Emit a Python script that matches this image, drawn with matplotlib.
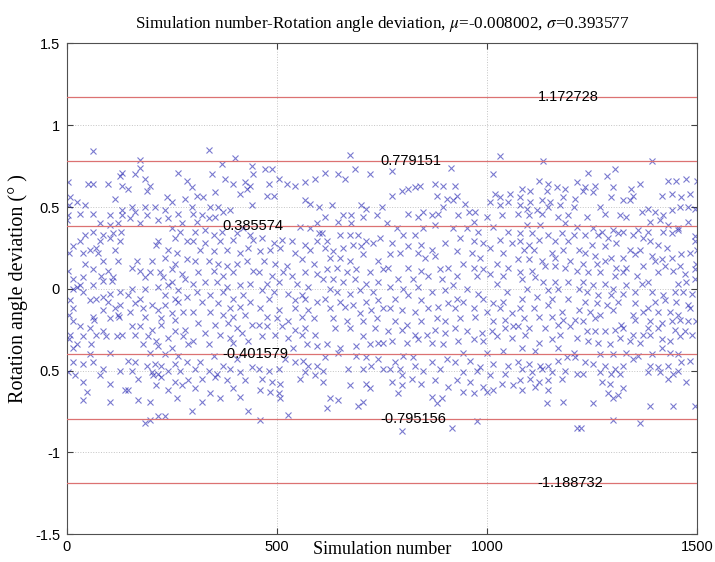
import matplotlib
matplotlib.use('Agg')
import matplotlib.pyplot as plt

# (simulation number, rotation angle deviation), strip by strip
strip_1 = [(61, 0.84), (130, 0.71), (126, 0.69), (2, 0.65), (50, 0.64), (62, 0.64), (98, 0.64), (130, 0.63),
           (7, 0.56), (23, 0.53), (43, 0.51), (4, 0.51), (114, 0.55), (3, 0.45), (31, 0.46), (62, 0.46),
           (102, 0.45), (130, 0.48), (132, 0.45), (1, 0.42), (78, 0.40), (102, 0.39), (122, 0.40), (43, 0.33),
           (62, 0.35), (86, 0.33), (110, 0.34), (129, 0.35), (31, 0.29), (78, 0.29), (102, 0.31), (126, 0.29),
           (70, 0.25), (54, 0.24), (15, 0.26), (4, 0.22), (39, 0.22), (74, 0.22), (114, 0.24), (43, 0.15),
           (86, 0.17), (122, 0.17), (3, 0.11), (62, 0.12), (98, 0.11), (39, 0.07), (82, 0.08), (110, 0.07),
           (15, 0.06), (23, 0.01), (15, 0.00), (31, 0.02), (62, 0.02), (86, 0.05), (106, 0.05), (39, -0.02),
           (70, -0.06), (86, -0.05), (102, -0.03), (126, -0.02), (7, -0.07), (54, -0.07), (98, -0.08),
           (127, -0.10), (15, -0.12), (86, -0.13), (114, -0.12), (4, -0.16), (62, -0.17), (122, -0.16),
           (15, -0.20), (64, -0.19), (102, -0.18), (125, -0.17), (31, -0.23), (54, -0.24), (86, -0.26),
           (7, -0.28), (39, -0.29), (70, -0.28), (94, -0.29), (118, -0.29), (131, -0.28), (23, -0.34),
           (58, -0.34), (4, -0.31), (15, -0.36), (54, -0.40), (102, -0.39), (15, -0.45), (39, -0.46),
           (62, -0.45), (86, -0.49), (126, -0.50), (3, -0.51), (19, -0.53), (78, -0.53), (39, -0.57),
           (102, -0.58), (47, -0.63), (39, -0.68), (102, -0.69)]

strip_2 = [(174, 0.79), (265, 0.71), (173, 0.74), (162, 0.70), (186, 0.67), (198, 0.63), (190, 0.60), (146, 0.61),
           (285, 0.66), (237, 0.56), (281, 0.55), (249, 0.53), (154, 0.50), (186, 0.50), (209, 0.50), (162, 0.47),
           (233, 0.48), (265, 0.46), (190, 0.45), (150, 0.43), (217, 0.42), (241, 0.43), (174, 0.40), (273, 0.40),
           (249, 0.37), (269, 0.35), (257, 0.31), (285, 0.29), (217, 0.29), (213, 0.27), (261, 0.22), (241, 0.24),
           (166, 0.17), (202, 0.17), (233, 0.19), (257, 0.15), (285, 0.18), (154, 0.13), (174, 0.11), (198, 0.10),
           (221, 0.10), (249, 0.12), (273, 0.09), (186, 0.07), (229, 0.07), (249, 0.04), (281, 0.06), (154, 0.00),
           (186, 0.00), (217, 0.01), (241, 0.02), (265, -0.01), (146, -0.04), (174, -0.06), (233, -0.04),
           (257, -0.06), (285, -0.05), (162, -0.09), (202, -0.10), (233, -0.10), (265, -0.08), (150, -0.14),
           (182, -0.12), (217, -0.13), (249, -0.15), (277, -0.14), (186, -0.17), (225, -0.18), (257, -0.19),
           (154, -0.23), (174, -0.23), (202, -0.25), (225, -0.22), (257, -0.26), (281, -0.25), (162, -0.28),
           (194, -0.29), (213, -0.32), (241, -0.30), (277, -0.29), (182, -0.34), (217, -0.35), (249, -0.36),
           (289, -0.34), (198, -0.39), (233, -0.40), (265, -0.41), (146, -0.44), (162, -0.45), (190, -0.47),
           (209, -0.46), (225, -0.47), (257, -0.46), (285, -0.45), (154, -0.50), (202, -0.51), (217, -0.52),
           (241, -0.50), (269, -0.50), (170, -0.55), (205, -0.53), (225, -0.54), (257, -0.57), (289, -0.56),
           (146, -0.62), (213, -0.59), (241, -0.62), (273, -0.59), (138, -0.62), (170, -0.68), (198, -0.69),
           (261, -0.67), (217, -0.78), (233, -0.78), (198, -0.80), (186, -0.82)]

strip_3 = [(337, 0.85), (400, 0.80), (368, 0.76), (440, 0.75), (345, 0.70), (376, 0.67), (396, 0.64), (424, 0.65),
           (436, 0.63), (444, 0.70), (297, 0.62), (325, 0.56), (309, 0.57), (353, 0.59), (412, 0.58), (428, 0.61),
           (341, 0.50), (297, 0.50), (360, 0.50), (388, 0.48), (440, 0.51), (301, 0.46), (321, 0.45), (337, 0.43),
           (353, 0.44), (309, 0.41), (372, 0.47), (305, 0.35), (329, 0.36), (349, 0.33), (368, 0.35), (404, 0.34),
           (420, 0.37), (436, 0.33), (301, 0.29), (329, 0.28), (364, 0.29), (396, 0.30), (444, 0.30), (317, 0.24),
           (349, 0.23), (380, 0.24), (412, 0.22), (432, 0.25), (305, 0.17), (337, 0.17), (360, 0.15), (380, 0.14),
           (404, 0.15), (428, 0.17), (313, 0.10), (349, 0.11), (372, 0.08), (396, 0.10), (444, 0.11), (301, 0.03),
           (329, 0.04), (356, 0.04), (380, 0.01), (412, 0.02), (436, 0.03), (309, -0.02), (341, -0.04),
           (372, -0.02), (396, -0.06), (420, -0.04), (321, -0.08), (360, -0.09), (388, -0.12), (412, -0.11),
           (436, -0.08), (301, -0.14), (341, -0.14), (372, -0.16), (396, -0.17), (424, -0.16), (313, -0.21),
           (353, -0.22), (384, -0.21), (404, -0.24), (440, -0.22), (329, -0.27), (364, -0.28), (388, -0.30),
           (416, -0.27), (301, -0.32), (337, -0.34), (396, -0.33), (432, -0.32), (349, -0.41), (317, -0.45),
           (372, -0.47), (404, -0.43), (305, -0.49), (337, -0.50), (356, -0.52), (388, -0.49), (412, -0.51),
           (440, -0.48), (321, -0.55), (353, -0.54), (380, -0.56), (424, -0.56), (305, -0.61), (341, -0.64),
           (396, -0.61), (321, -0.69), (364, -0.67), (412, -0.66), (432, -0.75), (297, -0.75)]

strip_4 = [(472, 0.73), (488, 0.73), (504, 0.67), (480, 0.64), (523, 0.64), (543, 0.63), (567, 0.65), (591, 0.67),
           (476, 0.57), (492, 0.57), (567, 0.54), (579, 0.52), (599, 0.50), (595, 0.40), (555, 0.38), (579, 0.37),
           (599, 0.34), (464, 0.31), (492, 0.28), (512, 0.30), (535, 0.29), (567, 0.27), (595, 0.29), (460, 0.23),
           (484, 0.24), (508, 0.25), (543, 0.22), (579, 0.24), (468, 0.17), (496, 0.15), (523, 0.14), (559, 0.18),
           (587, 0.15), (456, 0.10), (488, 0.08), (515, 0.10), (535, 0.08), (567, 0.10), (595, 0.09), (476, 0.03),
           (504, 0.04), (547, 0.03), (575, 0.01), (464, -0.01), (492, -0.02), (527, -0.03), (559, -0.04),
           (480, -0.06), (543, -0.07), (567, -0.06), (595, -0.08), (460, -0.12), (504, -0.13), (543, -0.12),
           (575, -0.13), (476, -0.17), (500, -0.18), (527, -0.20), (559, -0.17), (587, -0.18), (456, -0.22),
           (476, -0.23), (512, -0.23), (543, -0.25), (567, -0.24), (464, -0.29), (496, -0.28), (527, -0.30),
           (559, -0.28), (591, -0.28), (539, -0.36), (571, -0.34), (595, -0.35), (519, -0.43), (543, -0.45),
           (563, -0.44), (575, -0.47), (595, -0.47), (456, -0.49), (480, -0.50), (504, -0.49), (567, -0.51),
           (591, -0.53), (464, -0.55), (488, -0.57), (508, -0.58), (555, -0.55), (460, -0.62), (484, -0.63),
           (504, -0.64), (506, -0.67), (460, -0.80), (527, -0.77)]

strip_5 = [(673, 0.82), (614, 0.71), (646, 0.70), (662, 0.67), (685, 0.73), (721, 0.70), (630, 0.51), (658, 0.45),
           (677, 0.45), (701, 0.51), (713, 0.49), (749, 0.50), (614, 0.44), (646, 0.41), (677, 0.40), (705, 0.44),
           (737, 0.45), (606, 0.34), (618, 0.29), (650, 0.33), (673, 0.33), (693, 0.33), (713, 0.29), (745, 0.31),
           (614, 0.25), (634, 0.23), (658, 0.25), (681, 0.27), (701, 0.26), (729, 0.28), (626, 0.19), (650, 0.19),
           (673, 0.17), (705, 0.21), (741, 0.17), (618, 0.12), (642, 0.13), (666, 0.10), (689, 0.12), (721, 0.10),
           (753, 0.12), (610, 0.06), (634, 0.06), (658, 0.04), (685, 0.06), (713, 0.03), (741, 0.04), (626, 0.00),
           (642, -0.02), (673, -0.03), (697, -0.01), (729, -0.02), (614, -0.06), (650, -0.08), (681, -0.10),
           (713, -0.08), (741, -0.07), (626, -0.12), (662, -0.11), (697, -0.15), (725, -0.13), (753, -0.12),
           (634, -0.18), (666, -0.20), (705, -0.20), (737, -0.18), (638, -0.24), (673, -0.24), (705, -0.29),
           (741, -0.33), (733, -0.24), (618, -0.34), (650, -0.36), (689, -0.35), (721, -0.34), (753, -0.33),
           (614, -0.42), (646, -0.39), (689, -0.41), (713, -0.42), (741, -0.43), (610, -0.50), (669, -0.49),
           (705, -0.49), (725, -0.47), (753, -0.49), (610, -0.57), (713, -0.58), (721, -0.61), (673, -0.59),
           (626, -0.67), (646, -0.68), (693, -0.72), (705, -0.69), (618, -0.73)]

strip_6 = [(773, 0.72), (797, 0.60), (813, 0.61), (828, 0.62), (840, 0.63), (876, 0.64), (896, 0.63), (773, 0.57),
           (880, 0.57), (904, 0.55), (896, 0.50), (813, 0.46), (848, 0.47), (868, 0.45), (884, 0.46), (836, 0.44),
           (761, 0.40), (785, 0.37), (848, 0.37), (876, 0.39), (801, 0.33), (828, 0.33), (773, 0.28), (813, 0.26),
           (844, 0.27), (868, 0.24), (900, 0.28), (769, 0.21), (793, 0.22), (836, 0.22), (876, 0.20), (852, 0.19),
           (765, 0.13), (813, 0.13), (844, 0.11), (888, 0.12), (908, 0.13), (789, 0.06), (824, 0.06), (860, 0.08),
           (892, 0.06), (769, 0.01), (801, 0.00), (836, 0.01), (868, -0.02), (900, -0.01), (781, -0.06),
           (813, -0.04), (844, -0.07), (908, -0.09), (769, -0.12), (797, -0.13), (828, -0.14), (860, -0.12),
           (884, -0.11), (781, -0.20), (809, -0.22), (844, -0.20), (880, -0.18), (900, -0.20), (765, -0.26),
           (797, -0.25), (828, -0.28), (856, -0.28), (876, -0.25), (900, -0.27), (773, -0.32), (809, -0.33),
           (836, -0.31), (868, -0.33), (896, -0.34), (801, -0.41), (824, -0.42), (781, -0.45), (828, -0.47),
           (868, -0.45), (904, -0.43), (769, -0.49), (793, -0.49), (848, -0.50), (888, -0.49), (797, -0.53),
           (821, -0.55), (773, -0.57), (876, -0.56), (797, -0.59), (844, -0.58), (908, -0.60), (789, -0.64),
           (868, -0.66), (892, -0.67), (880, -0.70), (797, -0.87)]

strip_7 = [(1031, 0.81), (1015, 0.70), (914, 0.74), (924, 0.63), (928, 0.57), (1019, 0.58), (1031, 0.56),
           (1055, 0.58), (920, 0.54), (948, 0.52), (956, 0.47), (972, 0.47), (1007, 0.53), (1031, 0.51),
           (1051, 0.53), (932, 0.45), (968, 0.41), (999, 0.44), (1035, 0.45), (920, 0.37), (952, 0.37), (979, 0.35),
           (1015, 0.38), (1051, 0.35), (936, 0.31), (968, 0.29), (991, 0.28), (1031, 0.30), (1059, 0.28),
           (928, 0.23), (964, 0.22), (983, 0.19), (1007, 0.25), (1039, 0.22), (944, 0.15), (968, 0.13), (991, 0.12),
           (1023, 0.15), (1051, 0.13), (928, 0.08), (976, 0.08), (1007, 0.09), (1039, 0.08), (920, 0.02),
           (952, 0.00), (979, -0.03), (1023, 0.03), (1047, -0.02), (928, -0.06), (944, -0.08), (991, -0.06),
           (1015, -0.09), (1039, -0.08), (924, -0.12), (968, -0.12), (999, -0.14), (1031, -0.12), (1059, -0.15),
           (936, -0.18), (972, -0.17), (1015, -0.20), (1043, -0.19), (924, -0.24), (952, -0.26), (987, -0.27),
           (1011, -0.26), (1043, -0.24), (1063, -0.23), (932, -0.32), (968, -0.31), (991, -0.32), (1023, -0.29),
           (1059, -0.30), (944, -0.39), (999, -0.39), (1039, -0.38), (924, -0.45), (960, -0.44), (983, -0.48),
           (1015, -0.46), (1051, -0.47), (944, -0.51), (976, -0.50), (1007, -0.53), (1043, -0.52), (928, -0.56),
           (960, -0.57), (991, -0.60), (1015, -0.62), (1035, -0.58), (1063, -0.59), (944, -0.63), (968, -0.64),
           (999, -0.63), (976, -0.81), (916, -0.85)]

strip_8 = [(1134, 0.78), (1123, 0.66), (1146, 0.64), (1214, 0.65), (1083, 0.61), (1103, 0.60), (1142, 0.60),
           (1166, 0.62), (1186, 0.61), (1079, 0.56), (1103, 0.53), (1131, 0.54), (1150, 0.53), (1182, 0.56),
           (1210, 0.55), (1079, 0.51), (1095, 0.49), (1119, 0.48), (1146, 0.50), (1174, 0.51), (1206, 0.50),
           (1075, 0.46), (1099, 0.45), (1131, 0.46), (1170, 0.44), (1194, 0.45), (1095, 0.39), (1127, 0.39),
           (1186, 0.40), (1214, 0.38), (1079, 0.34), (1107, 0.34), (1146, 0.33), (1178, 0.34), (1206, 0.33),
           (1079, 0.29), (1099, 0.27), (1123, 0.30), (1162, 0.29), (1194, 0.29), (1087, 0.24), (1111, 0.24),
           (1154, 0.22), (1182, 0.24), (1218, 0.24), (1075, 0.18), (1099, 0.18), (1131, 0.17), (1162, 0.19),
           (1198, 0.17), (1079, 0.10), (1107, 0.11), (1138, 0.14), (1162, 0.14), (1186, 0.13), (1214, 0.11),
           (1083, 0.06), (1115, 0.07), (1134, 0.04), (1162, 0.04), (1194, 0.04), (1095, 0.00), (1146, -0.01),
           (1170, 0.00), (1218, 0.00), (1083, -0.06), (1119, -0.05), (1154, -0.06), (1194, -0.06), (1079, -0.12),
           (1111, -0.12), (1146, -0.10), (1178, -0.14), (1218, -0.13), (1087, -0.18), (1123, -0.17), (1154, -0.17),
           (1180, -0.19), (1210, -0.19), (1075, -0.23), (1099, -0.24), (1138, -0.24), (1170, -0.22), (1198, -0.23),
           (1091, -0.28), (1123, -0.33), (1154, -0.31), (1174, -0.28), (1214, -0.30), (1083, -0.36), (1115, -0.38),
           (1170, -0.36), (1206, -0.39), (1075, -0.45), (1099, -0.46), (1127, -0.47), (1146, -0.47), (1170, -0.44),
           (1190, -0.42), (1210, -0.42), (1083, -0.49), (1107, -0.51), (1131, -0.49), (1154, -0.51), (1186, -0.50),
           (1214, -0.52), (1079, -0.56), (1103, -0.55), (1123, -0.57), (1146, -0.56), (1178, -0.55), (1083, -0.62),
           (1115, -0.60), (1146, -0.62), (1142, -0.70), (1182, -0.69), (1214, -0.85)]

strip_9 = [(1304, 0.73), (1241, 0.71), (1285, 0.69), (1257, 0.63), (1233, 0.62), (1300, 0.62), (1344, 0.61),
           (1364, 0.64), (1229, 0.60), (1253, 0.59), (1296, 0.56), (1324, 0.54), (1340, 0.54), (1348, 0.57),
           (1269, 0.50), (1281, 0.46), (1316, 0.45), (1332, 0.44), (1368, 0.47), (1237, 0.44), (1253, 0.37),
           (1273, 0.35), (1300, 0.36), (1324, 0.35), (1360, 0.36), (1233, 0.33), (1265, 0.33), (1288, 0.31),
           (1312, 0.34), (1348, 0.33), (1372, 0.31), (1249, 0.27), (1281, 0.26), (1308, 0.28), (1340, 0.24),
           (1364, 0.24), (1233, 0.22), (1257, 0.20), (1296, 0.19), (1324, 0.19), (1352, 0.21), (1229, 0.15),
           (1261, 0.15), (1281, 0.17), (1308, 0.13), (1332, 0.13), (1372, 0.14), (1241, 0.10), (1269, 0.10),
           (1304, 0.08), (1324, 0.10), (1356, 0.08), (1229, 0.04), (1253, 0.02), (1281, 0.03), (1300, 0.00),
           (1332, 0.02), (1368, 0.03), (1237, -0.02), (1265, -0.04), (1296, -0.04), (1324, -0.03), (1352, -0.02),
           (1233, -0.08), (1261, -0.09), (1285, -0.10), (1312, -0.08), (1352, -0.09), (1245, -0.14), (1269, -0.16),
           (1300, -0.13), (1348, -0.16), (1372, -0.14), (1229, -0.20), (1257, -0.18), (1320, -0.22), (1352, -0.19),
           (1237, -0.26), (1257, -0.26), (1281, -0.26), (1304, -0.25), (1324, -0.24), (1348, -0.28), (1372, -0.28),
           (1241, -0.32), (1265, -0.33), (1292, -0.34), (1316, -0.30), (1340, -0.32), (1364, -0.33), (1269, -0.40),
           (1300, -0.40), (1332, -0.39), (1360, -0.41), (1233, -0.45), (1253, -0.46), (1281, -0.47), (1304, -0.49),
           (1324, -0.47), (1348, -0.43), (1229, -0.52), (1269, -0.51), (1296, -0.52), (1316, -0.52), (1273, -0.57),
           (1292, -0.58), (1288, -0.64), (1312, -0.65), (1324, -0.61), (1300, -0.67), (1253, -0.70), (1300, -0.80),
           (1364, -0.82), (1225, -0.85)]

strip_10 = [(1392, 0.78), (1432, 0.66), (1451, 0.66), (1475, 0.67), (1499, 0.66), (1416, 0.57), (1440, 0.58),
            (1483, 0.58), (1463, 0.56), (1384, 0.49), (1400, 0.47), (1420, 0.45), (1440, 0.48), (1459, 0.50),
            (1479, 0.50), (1495, 0.49), (1388, 0.41), (1412, 0.42), (1432, 0.39), (1455, 0.37), (1479, 0.41),
            (1384, 0.35), (1420, 0.35), (1440, 0.34), (1455, 0.36), (1495, 0.32), (1388, 0.29), (1408, 0.27),
            (1428, 0.25), (1495, 0.29), (1392, 0.20), (1416, 0.18), (1440, 0.19), (1463, 0.21), (1483, 0.22),
            (1499, 0.24), (1400, 0.17), (1424, 0.14), (1459, 0.14), (1498, 0.15), (1408, 0.10), (1443, 0.11),
            (1471, 0.09), (1495, 0.12), (1384, 0.04), (1455, 0.03), (1475, 0.04), (1495, 0.06), (1392, -0.02),
            (1420, -0.04), (1447, -0.02), (1467, -0.02), (1487, -0.03), (1400, -0.08), (1424, -0.07), (1451, -0.08),
            (1479, -0.10), (1384, -0.12), (1408, -0.14), (1436, -0.14), (1455, -0.16), (1483, -0.12), (1388, -0.20),
            (1416, -0.21), (1440, -0.20), (1459, -0.19), (1479, -0.20), (1497, -0.20), (1384, -0.24), (1408, -0.24),
            (1447, -0.25), (1471, -0.26), (1388, -0.28), (1416, -0.31), (1436, -0.32), (1459, -0.29), (1487, -0.28),
            (1392, -0.40), (1416, -0.36), (1436, -0.39), (1455, -0.40), (1388, -0.47), (1408, -0.48), (1432, -0.47),
            (1463, -0.45), (1483, -0.44), (1384, -0.51), (1412, -0.51), (1443, -0.52), (1455, -0.50), (1475, -0.57),
            (1432, -0.55), (1388, -0.72), (1443, -0.72), (1495, -0.72)]

ref_values = [1.172728, 0.779151, 0.385574, -0.401579, -0.795156, -1.188732]
ref_label_x = [1120, 745, 370, 370, 745, 1120]
x_ticks = [0, 500, 1000, 1500]
y_ticks = [-1.5, -1, -0.5, 0, 0.5, 1, 1.5]
# the -0.5 tick shows up without its minus sign in the source figure
y_tick_labels = ['-1.5', '-1', '0.5', '0', '0.5', '1', '1.5']

plt.rcParams['font.family'] = 'Liberation Sans'
plt.rcParams['mathtext.fontset'] = 'stix'

fig = plt.figure(figsize=(7.15, 5.62), dpi=100)
ax = fig.add_axes([0.0937, 0.0498, 0.8811, 0.8728])

points = strip_1 + strip_2 + strip_3 + strip_4 + strip_5 + strip_6 + strip_7 + strip_8 + strip_9 + strip_10
sim = [p[0] for p in points]
dev = [p[1] for p in points]
ax.plot(sim, dev, 'x', color='#2222b0', ms=5, mew=0.8, alpha=0.6, zorder=2)

for v, tx in zip(ref_values, ref_label_x):
    ax.axhline(v, color='#dc7272', lw=0.9, zorder=3)
    ax.text(tx, v, '%.6f' % v, fontsize=10.5, va='center', ha='left', zorder=4)

ax.set_xlim(0, 1500)
ax.set_ylim(-1.5, 1.5)
ax.set_xticks(x_ticks)
ax.set_yticks(y_ticks)
ax.set_yticklabels(y_tick_labels)
ax.grid(True, ls=':', color='#c4c4c4', lw=0.7)
ax.tick_params(direction='in', top=True, right=True, labelsize=10.5, length=4, color='#404040')
ax.tick_params(axis='x', pad=4)
ax.tick_params(axis='y', pad=5)
for s in ax.spines.values():
    s.set_color('#505050')
    s.set_linewidth(0.8)

ax.set_title(r'Simulation number-Rotation angle deviation, $\mu$=-0.008002, $\sigma$=0.393577',
             fontsize=12.3, family='Liberation Serif', pad=11)
ax.set_xlabel('Simulation number', fontsize=13, family='Liberation Serif')
ax.xaxis.set_label_coords(0.5, -0.014)
ax.set_ylabel('Rotation angle deviation (° )', fontsize=14.5, family='Liberation Serif')
ax.yaxis.set_label_coords(-0.062, 0.5)

plt.savefig('out.png', dpi=100)
